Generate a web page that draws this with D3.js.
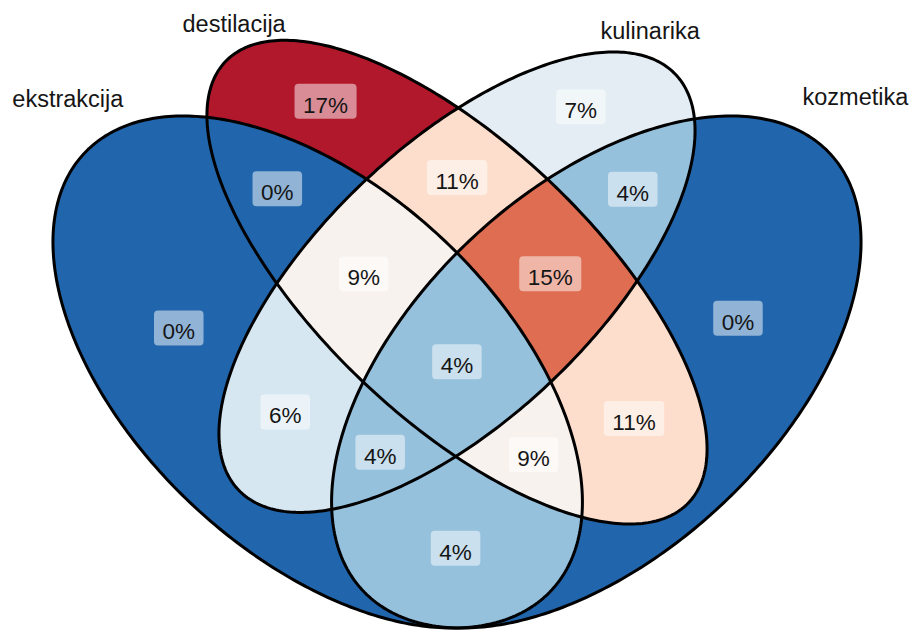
<!DOCTYPE html>
<html><head><meta charset="utf-8">
<script src="https://cdn.jsdelivr.net/npm/d3@7"></script>
<style>body{margin:0;background:#fff}</style>
</head><body>
<script>
// ---------- DATA ----------
const setNames = ["ekstrakcija", "destilacija", "kulinarika", "kozmetika"];
const regionSets = ["A", "B", "C", "D", "AB", "AC", "AD", "BC", "BD", "CD", "ABC", "ABD", "ACD", "BCD", "ABCD"];
const regionPct = [0, 17, 7, 0, 0, 6, 4, 11, 11, 4, 9, 9, 4, 15, 4];
const fillPalette = ["#2166AC", "#67A9CF", "#D1E5F0", "#F7F7F7", "#FDDBC7", "#EF8A62", "#B2182B"];

// ---------- LAYOUT (4-set ellipse shape: cx, cy, a, b, rotation deg) ----------
const shapeEllipses = [[0.35, 0.47, 0.35, 0.20, 135], [0.50, 0.57, 0.35, 0.15, 135],
                       [0.50, 0.57, 0.33, 0.15, 45], [0.65, 0.47, 0.35, 0.20, 45]];
const setLabelAnchor = [[0.081, 0.774], [0.26, 0.857], [0.708, 0.850], [0.929, 0.776]];

const W = 913, H = 631;
const x = d3.scaleLinear().domain([0.065, 0.935]).range([53, 861]);
const y = d3.scaleLinear().domain([0.185, 0.755]).range([628, 116]);
const maxPct = d3.max(regionPct);
const color = d3.scaleLinear()
  .domain(fillPalette.map((c, i) => i * maxPct / (fillPalette.length - 1)))
  .range(fillPalette).interpolate(d3.interpolateLab);

const svg = d3.select("body").append("svg").attr("width", W).attr("height", H)
  .style("font-family", "'Liberation Sans', Arial, sans-serif");

function ellipsePts(e, n = 360) {
  const [cx, cy, a, b, r] = e, th = r * Math.PI / 180;
  return d3.range(n).map(k => {
    const t = 2 * Math.PI * k / n;
    return [cx + a * Math.cos(t) * Math.cos(th) - b * Math.sin(t) * Math.sin(th),
            cy + a * Math.cos(t) * Math.sin(th) + b * Math.sin(t) * Math.cos(th)];
  });
}
function inside(e, px, py) {
  const [cx, cy, a, b, r] = e, th = r * Math.PI / 180;
  const dx = px - cx, dy = py - cy;
  const u = dx * Math.cos(th) + dy * Math.sin(th);
  const v = -dx * Math.sin(th) + dy * Math.cos(th);
  return (u * u) / (a * a) + (v * v) / (b * b) <= 1;
}
const line = d3.line().x(d => x(d[0])).y(d => y(d[1])).curve(d3.curveLinearClosed);
const letters = "ABCD";

const defs = svg.append("defs");
shapeEllipses.forEach((e, i) => {
  defs.append("clipPath").attr("id", "clip" + i).append("path").attr("d", line(ellipsePts(e)));
});

// region fills
const gFill = svg.append("g");
regionSets.forEach((code, ri) => {
  const inc = [], exc = [];
  for (let i = 0; i < 4; i++) (code.includes(letters[i]) ? inc : exc).push(i);
  const m = defs.append("mask").attr("id", "mask" + ri).attr("maskUnits", "userSpaceOnUse")
    .attr("x", 0).attr("y", 0).attr("width", W).attr("height", H);
  m.append("rect").attr("width", W).attr("height", H).attr("fill", "#fff");
  exc.forEach(i => m.append("path").attr("d", line(ellipsePts(shapeEllipses[i]))).attr("fill", "#000"));
  let g = gFill.append("g").attr("mask", "url(#mask" + ri + ")");
  inc.forEach(i => { g = g.append("g").attr("clip-path", "url(#clip" + i + ")"); });
  g.append("rect").attr("width", W).attr("height", H).attr("fill", color(regionPct[ri]));
});

// outlines
svg.append("g").selectAll("path").data(shapeEllipses).join("path")
  .attr("d", e => line(ellipsePts(e))).attr("fill", "none")
  .attr("stroke", "#000").attr("stroke-width", 3);

// region centroids by sampling
const step = 0.0025;
const acc = regionSets.map(() => [0, 0, 0]);
for (let px = 0.06; px <= 0.94; px += step) {
  for (let py = 0.18; py <= 0.85; py += step) {
    let code = "";
    for (let i = 0; i < 4; i++) if (inside(shapeEllipses[i], px, py)) code += letters[i];
    const ri = regionSets.indexOf(code);
    if (ri >= 0) { acc[ri][0] += px; acc[ri][1] += py; acc[ri][2]++; }
  }
}
const fs = 22.5;
const gLab = svg.append("g");
regionSets.forEach((code, ri) => {
  const cx = x(acc[ri][0] / acc[ri][2]), cy = y(acc[ri][1] / acc[ri][2]);
  const g = gLab.append("g");
  const rect = g.append("rect").attr("fill", "#fff").attr("fill-opacity", 0.5).attr("rx", 4);
  const t = g.append("text").attr("x", cx).attr("y", cy + 11.5).attr("text-anchor", "middle")
    .attr("font-size", fs).attr("fill", "#151515").text(regionPct[ri] + "%");
  const w = t.node().getComputedTextLength() + 17;
  rect.attr("x", cx - w / 2).attr("y", cy - 17.5).attr("width", w).attr("height", 35);
});

// set labels
svg.append("g").selectAll("text").data(setNames).join("text")
  .attr("x", (d, i) => x(setLabelAnchor[i][0]))
  .attr("y", (d, i) => y(setLabelAnchor[i][1]) + 8)
  .attr("text-anchor", "middle").attr("font-size", 23.5).attr("fill", "#151515")
  .text(d => d);
</script>
</body></html>
